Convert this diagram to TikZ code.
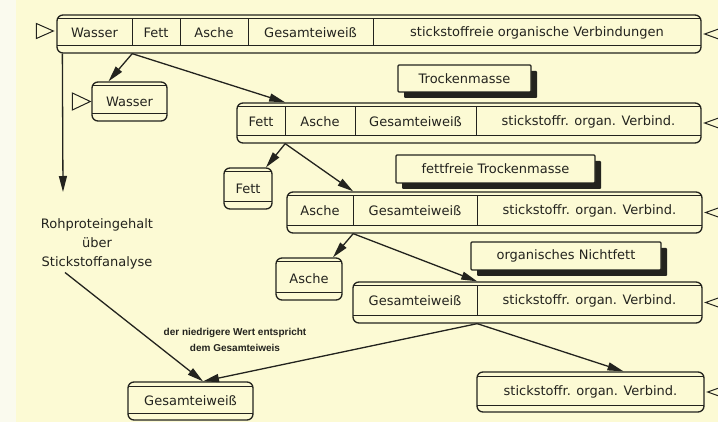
\documentclass[tikz,border=0pt]{standalone}
\usepackage{fontspec}
\setmainfont{DejaVu Sans}
\newfontfamily\notefont{Liberation Sans}
\usepackage{xcolor}
\usetikzlibrary{positioning,arrows.meta,shadows}
\definecolor{paper}{RGB}{252,250,212}
\definecolor{paperedge}{RGB}{250,250,238}
\definecolor{ink}{RGB}{35,35,30}

\tikzset{
  bar/.style={draw=ink, line width=1.3pt, fill=paper, rounded corners=6pt, inner sep=0pt,
    font=\fontsize{13}{15}\selectfont, text=ink,
    path picture={
      \draw[ink, line width=1pt] ([yshift=-4pt]path picture bounding box.north west)
        -- ([yshift=-4pt]path picture bounding box.north east);
      \draw[ink, line width=1pt] ([yshift=7pt]path picture bounding box.south west)
        -- ([yshift=7pt]path picture bounding box.south east);
    }},
  cell/.style={font=\fontsize{13}{15}\selectfont, text=ink, inner sep=0pt},
  divider/.style={draw=ink, line width=1.1pt},
  stage/.style={draw=ink, line width=1.3pt, fill=paper, rounded corners=1pt, inner sep=0pt,
    font=\fontsize{13}{15}\selectfont, text=ink,
    drop shadow={fill=ink, opacity=1, shadow xshift=6pt, shadow yshift=-6pt}},
  flow/.style={draw=ink, line width=1.3pt, -{Triangle[length=16pt,width=8pt]}},
  marker/.style={draw=ink, line width=1pt, fill=paper},
}

\begin{document}
\begin{tikzpicture}[x=1pt,y=-1pt]
  % paper
  \fill[paper] (0,0) rectangle (718,422);
  \fill[paperedge] (0,0) rectangle (16,422);
  \useasboundingbox (0,0) rectangle (718,422);

  % Frischsubstanz
  \node[bar, minimum width=644pt, minimum height=38pt] (b1) at (379,34) {};
  \foreach \n/\xa/\xb/\txt in {1/57/132/Wasser, 2/132/180/Fett, 3/180/248/Asche,
    4/248/373/Gesamteiweiß, 5/373/701/stickstoffreie organische Verbindungen}{
    \pgfmathsetmacro{\cx}{(\xa+\xb)/2}
    \pgfmathsetmacro{\cw}{\xb-\xa}
    \node[cell, minimum width=\cw pt, minimum height=27pt] (b1c\n) at (\cx,32.5) {\txt};
  }
  \foreach \n in {1,...,4} \draw[divider] (b1c\n.north east) -- (b1c\n.south east);

  % Trockenmasse
  \node[bar, minimum width=464pt, minimum height=40pt] (b2) at (469,123) {};
  \foreach \n/\xa/\xb/\txt in {1/237/285/Fett, 2/285/355/Asche,
    3/355/476/Gesamteiweiß, 4/476/701/stickstoffr. organ. Verbind.}{
    \pgfmathsetmacro{\cx}{(\xa+\xb)/2}
    \pgfmathsetmacro{\cw}{\xb-\xa}
    \node[cell, minimum width=\cw pt, minimum height=29pt] (b2c\n) at (\cx,121.5) {\txt};
  }
  \foreach \n in {1,...,3} \draw[divider] (b2c\n.north east) -- (b2c\n.south east);

  % fettfreie Trockenmasse
  \node[bar, minimum width=415pt, minimum height=41pt] (b3) at (494.5,212.5) {};
  \foreach \n/\xa/\xb/\txt in {1/287/353/Asche, 2/353/477/Gesamteiweiß,
    3/477/702/stickstoffr. organ. Verbind.}{
    \pgfmathsetmacro{\cx}{(\xa+\xb)/2}
    \pgfmathsetmacro{\cw}{\xb-\xa}
    \node[cell, minimum width=\cw pt, minimum height=30pt] (b3c\n) at (\cx,211) {\txt};
  }
  \foreach \n in {1,2} \draw[divider] (b3c\n.north east) -- (b3c\n.south east);

  % organisches Nichtfett
  \node[bar, minimum width=349pt, minimum height=41pt] (b4) at (527.5,302.5) {};
  \foreach \n/\xa/\xb/\txt in {1/353/477/Gesamteiweiß, 2/477/702/stickstoffr. organ. Verbind.}{
    \pgfmathsetmacro{\cx}{(\xa+\xb)/2}
    \pgfmathsetmacro{\cw}{\xb-\xa}
    \node[cell, minimum width=\cw pt, minimum height=30pt] (b4c\n) at (\cx,301) {\txt};
  }
  \draw[divider] (b4c1.north east) -- (b4c1.south east);

  % single fractions
  \node[bar, minimum width=75pt, minimum height=39pt] (wbox) at (129.5,101.5) {Wasser};
  \node[bar, minimum width=48pt, minimum height=41pt] (fbox) at (248,188.5) {Fett};
  \node[bar, minimum width=66pt, minimum height=42pt] (abox) at (309,279) {Asche};
  \node[bar, minimum width=125pt, minimum height=38pt] (gbox) at (190.5,401) {Gesamteiweiß};
  \node[bar, minimum width=227pt, minimum height=40pt] (sbox) at (590.5,392) {stickstoffr. organ. Verbind.};

  % stage titles
  \node[stage, minimum width=133pt, minimum height=27pt] (tbox) at (464.5,78.5) {Trockenmasse};
  \node[stage, minimum width=199pt, minimum height=28pt] (ftbox) at (495.5,169) {fettfreie Trockenmasse};
  \node[stage, minimum width=190pt, minimum height=28pt] (obox) at (566,256) {organisches Nichtfett};

  % markers
  \draw[marker] ([shift={(-3pt,3pt)}]b1.west) -- ++(-17,7.5) -- ++(0,-15) -- cycle;
  \draw[marker] ([xshift=-1pt]wbox.west) -- ++(-18,8.5) -- ++(0,-17) -- cycle;
  \foreach \b in {b1,b2,b3,b4,sbox}
    \draw[marker] ([xshift=3pt]\b.east) -- ++(14,-5) -- ++(0,10) -- cycle;

  % separation steps
  \draw[flow] (b1c1.east |- b1.south) -- ([xshift=-21pt]wbox.north);
  \draw[flow] (b1c1.east |- b1.south) -- (b2c1.east |- b2.north);
  \draw[flow] (b2c1.east |- b2.south) -- ([xshift=18pt]fbox.north);
  \draw[flow] (b2c1.east |- b2.south) -- (b3c1.east |- b3.north);
  \draw[flow] (b3c1.east |- b3.south) -- ([xshift=24pt]abox.north);
  \draw[flow] (b3c1.east |- b3.south) -- (b4c1.east |- b4.north);
  \draw[flow] (b4c1.east |- b4.south) -- ([xshift=12.5pt]gbox.north);
  \draw[flow] (b4c1.east |- b4.south) -- ([xshift=33pt]sbox.north);

  % Stickstoffanalyse
  \coordinate (protdown) at (63,192);
  \draw[flow] ([xshift=6pt]b1.south west) -- (protdown);
  \node[cell, align=center, font=\fontsize{13}{19}\selectfont] (prot) at (97,244)
    {Rohproteingehalt\\über\\Stickstoffanalyse};
  \draw[flow] ([shift={(-32pt,-3pt)}]prot.south) -- ([xshift=12.5pt]gbox.north);
  \node[text=ink, align=center, font=\notefont\fontsize{10}{16}\selectfont\bfseries] (note)
    at (235,340) {der niedrigere Wert entspricht\\dem Gesamteiweis};
\end{tikzpicture}
\end{document}
